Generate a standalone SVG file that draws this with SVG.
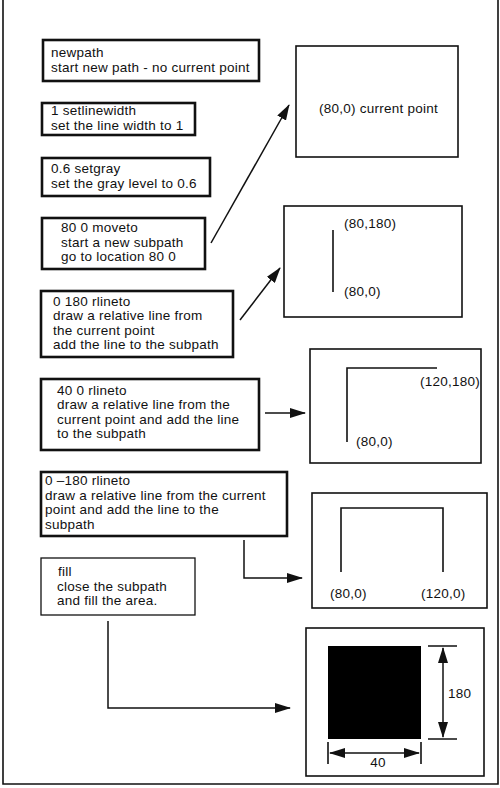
<svg xmlns="http://www.w3.org/2000/svg" width="500" height="788" viewBox="0 0 500 788">
<style>
text{font-family:"Liberation Sans",Arial,sans-serif;font-size:13.5px;letter-spacing:0.25px;fill:#111}
.cmd{fill:#fff;stroke:#111;stroke-width:2.6}
.cmdt{fill:#fff;stroke:#111;stroke-width:1.3}
.res{fill:#fff;stroke:#111;stroke-width:1.6}
.ln{fill:none;stroke:#111;stroke-width:1.6}
.con{fill:none;stroke:#111;stroke-width:1.5}
</style>
<defs>
<marker id="ah" viewBox="0 0 16 10" refX="15" refY="5" markerWidth="16" markerHeight="10" markerUnits="userSpaceOnUse" orient="auto-start-reverse">
<path d="M0,0 L16,5 L0,10 z" fill="#111"/>
</marker>
</defs>
<rect width="500" height="788" fill="#fff"/>
<path d="M3,0 V784 H498 V0" fill="none" stroke="#111" stroke-width="1.6"/>

<g id="newpath">
<rect class="cmd" x="43" y="40" width="216" height="41"/>
<text x="51" y="57">newpath</text>
<text x="51" y="72">start new path - no current point</text>
</g>
<g id="setlinewidth">
<rect class="cmd" x="42" y="103" width="153" height="32"/>
<text x="51" y="115">1 setlinewidth</text>
<text x="51" y="129.5">set the line width to 1</text>
</g>
<g id="setgray">
<rect class="cmd" x="42" y="158" width="168" height="38"/>
<text x="51" y="173">0.6 setgray</text>
<text x="51" y="188">set the gray level to 0.6</text>
</g>
<g id="moveto">
<rect class="cmd" x="42" y="218" width="163" height="51"/>
<text x="61" y="232">80 0 moveto</text>
<text x="61" y="246.5">start a new subpath</text>
<text x="61" y="261">go to location 80 0</text>
</g>
<g id="rlineto1">
<rect class="cmd" x="41" y="291" width="192" height="66"/>
<text x="53" y="305.5">0 180 rlineto</text>
<text x="53" y="320">draw a relative line from</text>
<text x="53" y="334.5">the current point</text>
<text x="53" y="349">add the line to the subpath</text>
</g>
<g id="rlineto2">
<rect class="cmd" x="41" y="379" width="218" height="71"/>
<text x="57" y="394.5">40 0 rlineto</text>
<text x="57" y="409">draw a relative line from the</text>
<text x="57" y="423.5">current point and add the line</text>
<text x="57" y="438">to the subpath</text>
</g>
<g id="rlineto3">
<rect class="cmd" x="41" y="472" width="246" height="64"/>
<text x="45" y="485">0 –180 rlineto</text>
<text x="45" y="499.5">draw a relative line from the current</text>
<text x="45" y="514">point and add the line to the</text>
<text x="45" y="528.5">subpath</text>
</g>
<g id="fill">
<rect class="cmdt" x="41" y="558" width="154" height="57"/>
<text x="58" y="576">fill</text>
<text x="57" y="590.5">close the subpath</text>
<text x="57" y="605">and fill the area.</text>
</g>

<g id="result1">
<rect class="res" x="296" y="46" width="162" height="111"/>
<text x="319" y="113">(80,0) current point</text>
</g>
<g id="result2">
<rect class="res" x="284" y="206" width="178" height="111"/>
<path class="ln" d="M333,230 V292"/>
<text x="344" y="228">(80,180)</text>
<text x="344" y="296">(80,0)</text>
</g>
<g id="result3">
<rect class="res" x="310" y="349" width="171" height="114"/>
<path class="ln" d="M347,442 V368 H437"/>
<text x="420" y="386">(120,180)</text>
<text x="356" y="446">(80,0)</text>
</g>
<g id="result4">
<rect class="res" x="312" y="493" width="175" height="115"/>
<path class="ln" d="M341,572 V508 H443 V572"/>
<text x="330" y="598">(80,0)</text>
<text x="421" y="598">(120,0)</text>
</g>
<g id="result5">
<rect class="res" x="306" y="628" width="178" height="148"/>
<rect x="328" y="646" width="93" height="93" fill="#000"/>
<path class="ln" d="M428,646 H457 M428,739 H457 M328,742 V764 M421,742 V764" stroke-width="1.3"/>
<path class="con" d="M443,648 V737" marker-start="url(#ah)" marker-end="url(#ah)"/>
<path class="con" d="M330,753 H419" marker-start="url(#ah)" marker-end="url(#ah)"/>
<text x="448" y="698">180</text>
<text x="378" y="767" text-anchor="middle">40</text>
</g>

<g id="connectors">
<path class="con" d="M211,243 L289,105" marker-end="url(#ah)"/>
<path class="con" d="M240,320 L280,268" marker-end="url(#ah)"/>
<path class="con" d="M265,413 H305" marker-end="url(#ah)"/>
<path class="con" d="M244,540 V578 H302" marker-end="url(#ah)"/>
<path class="con" d="M108,621 V708 H290" marker-end="url(#ah)"/>
</g>
</svg>
